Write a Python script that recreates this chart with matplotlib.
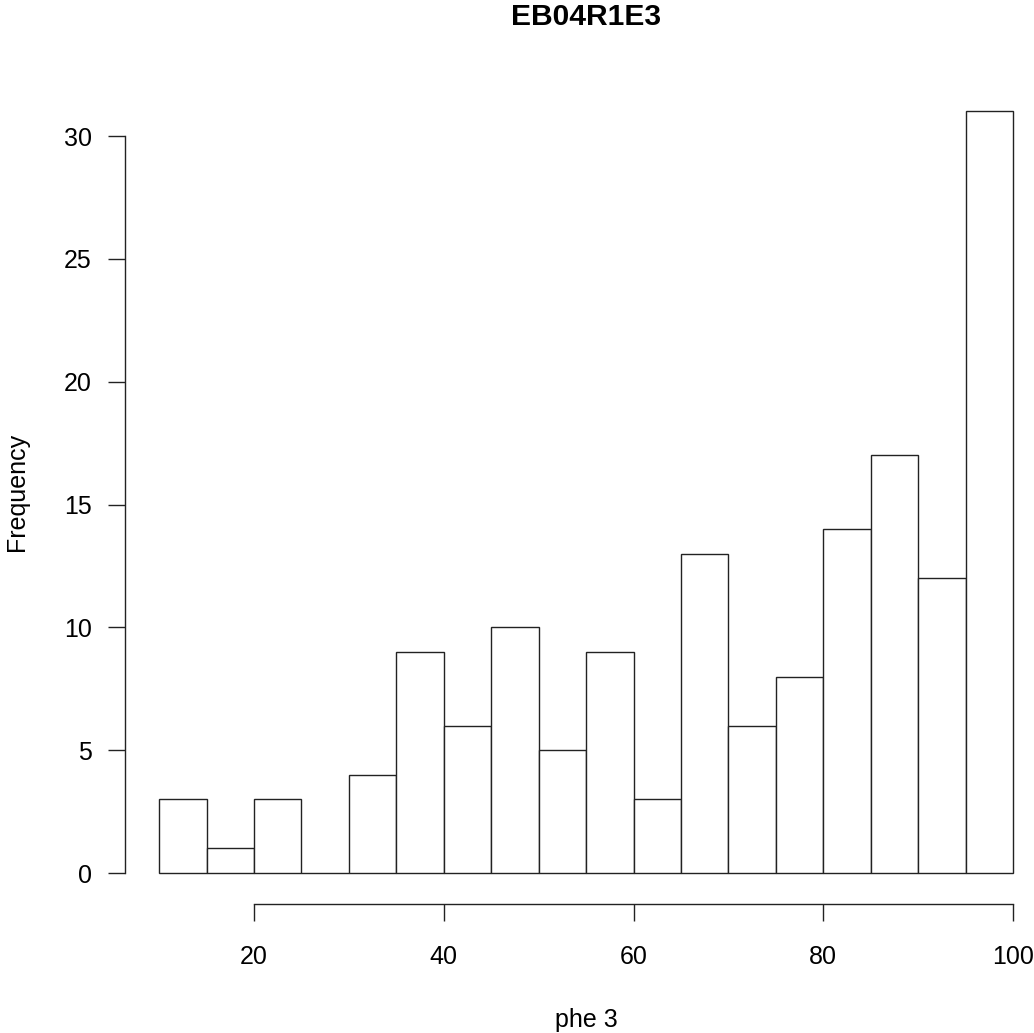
import matplotlib.pyplot as plt

# histogram of phe 3, bins of width 5
bin_left = [10, 15, 20, 25, 30, 35, 40, 45, 50, 55, 60, 65, 70, 75, 80, 85, 90, 95]
counts = [3, 1, 3, 0, 4, 9, 6, 10, 5, 9, 3, 13, 6, 8, 14, 17, 12, 31]
bin_width = 5
x_ticks = [20, 40, 60, 80, 100]
y_ticks = [0, 5, 10, 15, 20, 25, 30]

plt.rcParams['font.family'] = ['Liberation Sans', 'DejaVu Sans']

W, H = 1034, 1033
fig = plt.figure(figsize=(W / 100, H / 100), dpi=100)
left, right, top, bottom = 125, 1034, 81, 903.5
ax = fig.add_axes([left / W, 1 - bottom / H, (right - left) / W, (bottom - top) / H])

ax.bar(bin_left, counts, width=bin_width, align='edge',
       facecolor='white', edgecolor='#222222', linewidth=1.0)

ax.set_xlim(6.4, 6.4 + (right - left) / 9.4875)
ax.set_ylim(-1.24, 32.24)
ax.set_xticks(x_ticks)
ax.set_yticks(y_ticks)
for s in ['top', 'right']:
    ax.spines[s].set_visible(False)
ax.spines['left'].set_bounds(0, 30)
ax.spines['bottom'].set_bounds(20, 100)
for s in ['left', 'bottom']:
    ax.spines[s].set_linewidth(1.0)
    ax.spines[s].set_color('#222222')
ax.tick_params(axis='both', length=12, width=1.0, color='#222222', labelsize=18)
ax.tick_params(axis='x', pad=18)
ax.tick_params(axis='y', pad=12)

fig.text(586 / W, 1 - 17 / H, 'EB04R1E3', ha='center', va='center',
         fontsize=21.6, fontweight='bold')
fig.text(586 / W, 1 - 1020 / H, 'phe 3', ha='center', va='center', fontsize=18)
fig.text(17 / W, 1 - 492 / H, 'Frequency', ha='center', va='center',
         fontsize=18, rotation=90)

fig.savefig('out.png', dpi=100)
